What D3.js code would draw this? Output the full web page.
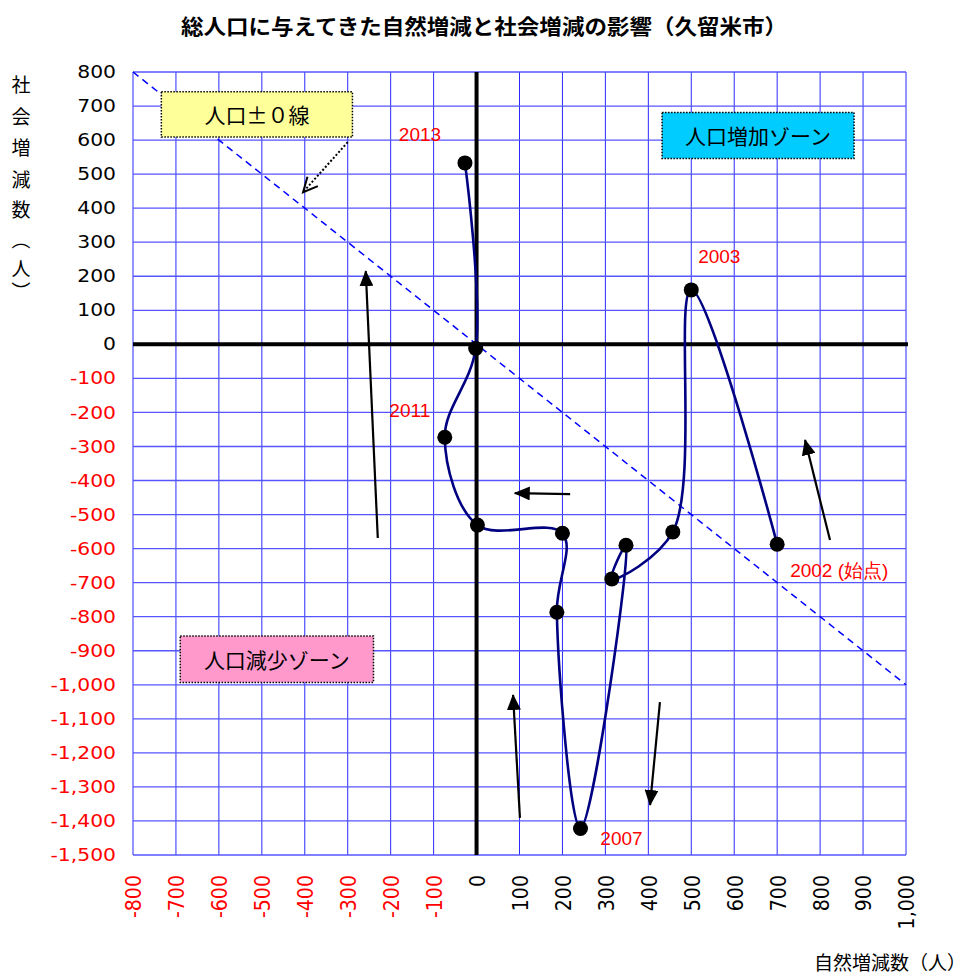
<!DOCTYPE html>
<html>
<head>
<meta charset="utf-8">
<script src="https://cdn.jsdelivr.net/npm/d3@7"></script>
<style>
  html, body { margin: 0; padding: 0; background: #fff; }
  svg { display: block; }
</style>
</head>
<body>
<svg id="chart" width="968" height="973"></svg>
<script>
// ---- data: Kurume city, natural vs. social population change (persons) ----
const years   = [2002, 2003, 2004, 2005, 2006, 2007, 2008, 2009, 2010, 2011, 2012, 2013];
const natural = [700, 500, 457, 315, 348, 242, 187, 200, 2, -74, -2, -27];
const social  = [-587, 160, -551, -689, -590, -1422, -787, -555, -531, -273, -12, 533];

// axis ticks
const xTicks = d3.range(-800, 1001, 100);
const yTicks = d3.range(-1500, 801, 100);

// labelled years: [year, text, dx, dy, anchor]
const yearLabels = [
  [2013, "2013", -45, -28, "middle"],
  [2011, "2011", -35, -27, "middle"],
  [2003, "2003", 28, -33, "middle"],
  [2007, "2007", 41, 10, "middle"],
  [2002, "2002 (始点)", 13, 26, "start"]
];

// direction arrows in data units: [x1, y1, x2, y2]
const flowArrows = [
  [-230, -569, -258, 215],
  [218, -440, 89, -437],
  [101, -1391, 85, -1030],
  [427, -1051, 404, -1353],
  [823, -575, 765, -281]
];

// zone boxes in data units: [x0, y0(top), x1, y1(bottom), text, fill]
const zoneBoxes = [
  [-734, 742, -289, 609, "人口±０線", "#ffff99"],
  [432, 681, 879, 546, "人口増加ゾーン", "#00ccff"],
  [-690, -857, -240, -993, "人口減少ゾーン", "#ff99cc"]
];
// callout pointer from the ±0 box to the diagonal: [x1, y1, x2, y2]
const callout = [-300, 594, -404, 447];

// ---- layout ----
const svg = d3.select("#chart");
const L = 133, R = 906, T = 72, B = 855;
const x = d3.scaleLinear().domain([-800, 1000]).range([L, R]);
const y = d3.scaleLinear().domain([-1500, 800]).range([B, T]);
const locale = d3.formatLocale({ decimal: ".", thousands: ",", grouping: [3], currency: ["", ""], minus: "-" });
const fmt = locale.format(",");
const tickColor = v => v < 0 ? "#ff0000" : "#000000";

// title
svg.append("text")
  .attr("x", 484).attr("y", 25)
  .attr("text-anchor", "middle").attr("dominant-baseline", "central")
  .attr("font-family", "'Noto Sans CJK JP', sans-serif")
  .attr("font-weight", "bold").attr("font-size", 21)
  .attr("textLength", 606).attr("lengthAdjust", "spacingAndGlyphs")
  .text("総人口に与えてきた自然増減と社会増減の影響（久留米市）");

// grid
const grid = svg.append("g");
grid.selectAll("line.gx").data(xTicks).join("line")
  .attr("x1", d => x(d)).attr("x2", d => x(d))
  .attr("y1", T).attr("y2", B)
  .attr("stroke", "#2a2aff").attr("stroke-width", 1);
grid.selectAll("line.gy").data(yTicks).join("line")
  .attr("x1", L).attr("x2", R)
  .attr("y1", d => y(d)).attr("y2", d => y(d))
  .attr("stroke", "#5555ff").attr("stroke-width", 1.3);

// zero axes
svg.append("line")
  .attr("x1", L).attr("x2", R + 2).attr("y1", y(0)).attr("y2", y(0))
  .attr("stroke", "#000").attr("stroke-width", 4);
svg.append("line")
  .attr("x1", x(0)).attr("x2", x(0)).attr("y1", T).attr("y2", B)
  .attr("stroke", "#000").attr("stroke-width", 4);

// y tick labels
svg.append("g").selectAll("text").data(yTicks).join("text")
  .attr("transform", d => `translate(116,${y(d)}) scale(1.13,1)`)
  .attr("text-anchor", "end").attr("dominant-baseline", "central")
  .attr("font-family", "'DejaVu Sans', Verdana, sans-serif")
  .attr("font-size", 18)
  .attr("fill", tickColor)
  .text(d => fmt(d));

// x tick labels (rotated)
svg.append("g").selectAll("text").data(xTicks).join("text")
  .attr("transform", d => `translate(${x(d) + 1},875) scale(1.13,1) rotate(-90)`)
  .attr("text-anchor", "end").attr("dominant-baseline", "central")
  .attr("font-family", "'DejaVu Sans', Verdana, sans-serif")
  .attr("font-size", 19)
  .attr("fill", tickColor)
  .text(d => fmt(d));

// axis titles
svg.append("text")
  .attr("x", 966).attr("y", 961)
  .attr("text-anchor", "end").attr("dominant-baseline", "central")
  .attr("font-family", "'Noto Sans CJK JP', sans-serif")
  .attr("font-size", 19)
  .text("自然増減数（人）");

// vertical y-axis title, one character per row; brackets turned for vertical setting
const yTitle = [["社", 83, 0], ["会", 115, 0], ["増", 146, 0], ["減", 178, 0],
                ["数", 208, 0], ["（", 240, 90], ["人", 267, 0], ["）", 291, 90]];
svg.append("g").selectAll("text").data(yTitle).join("text")
  .attr("transform", d => `translate(21,${d[1]}) rotate(${d[2]})`)
  .attr("text-anchor", "middle").attr("dominant-baseline", "central")
  .attr("font-family", "'Noto Sans CJK JP', sans-serif")
  .attr("font-size", 19)
  .text(d => d[0]);

// population ±0 diagonal (natural + social = 0)
svg.append("line")
  .attr("x1", x(-800)).attr("y1", y(800))
  .attr("x2", x(1000)).attr("y2", y(-1000))
  .attr("stroke", "#0000ff").attr("stroke-width", 1.5)
  .attr("stroke-dasharray", "7,5");

// markers
const defs = svg.append("defs");
defs.append("marker")
  .attr("id", "tri").attr("markerUnits", "userSpaceOnUse")
  .attr("viewBox", "0 0 16 14").attr("refX", 15).attr("refY", 7)
  .attr("markerWidth", 16).attr("markerHeight", 14)
  .attr("orient", "auto")
  .append("path").attr("d", "M0,0 L16,7 L0,14 Z").attr("fill", "#000");

// zone boxes
const boxes = svg.append("g");
zoneBoxes.forEach(b => {
  const [x0, y0, x1, y1, label, fill] = b;
  boxes.append("rect")
    .attr("x", x(x0)).attr("y", y(y0))
    .attr("width", x(x1) - x(x0)).attr("height", y(y1) - y(y0))
    .attr("fill", fill)
    .attr("stroke", "#000").attr("stroke-width", 1.5)
    .attr("stroke-dasharray", "1.5,1.5");
  boxes.append("text")
    .attr("x", (x(x0) + x(x1)) / 2).attr("y", (y(y0) + y(y1)) / 2)
    .attr("text-anchor", "middle").attr("dominant-baseline", "central")
    .attr("font-family", "'Noto Sans CJK JP', sans-serif")
    .attr("font-size", 21)
    .text(label);
});

// callout pointer: dotted shaft with open head
{
  const [cx1, cy1, cx2, cy2] = callout;
  const px1 = x(cx1), py1 = y(cy1), px2 = x(cx2), py2 = y(cy2);
  svg.append("line")
    .attr("x1", px1).attr("y1", py1).attr("x2", px2).attr("y2", py2)
    .attr("stroke", "#000").attr("stroke-width", 2)
    .attr("stroke-dasharray", "2,2");
  const ang = Math.atan2(py1 - py2, px1 - px2);
  const len = 16, spread = 0.45;
  const pA = [px2 + len * Math.cos(ang + spread), py2 + len * Math.sin(ang + spread)];
  const pB = [px2 + len * Math.cos(ang - spread), py2 + len * Math.sin(ang - spread)];
  svg.append("path")
    .attr("d", `M${pA[0]},${pA[1]} L${px2},${py2} L${pB[0]},${pB[1]}`)
    .attr("fill", "none").attr("stroke", "#000").attr("stroke-width", 2);
}

// flow arrows
svg.append("g").selectAll("line").data(flowArrows).join("line")
  .attr("x1", d => x(d[0])).attr("y1", d => y(d[1]))
  .attr("x2", d => x(d[2])).attr("y2", d => y(d[3]))
  .attr("stroke", "#000").attr("stroke-width", 2.2)
  .attr("marker-end", "url(#tri)");

// trajectory
const pts = years.map((yr, i) => ({ year: yr, nx: natural[i], sy: social[i] }));
svg.append("path")
  .datum(pts)
  .attr("d", d3.line().x(d => x(d.nx)).y(d => y(d.sy)).curve(d3.curveCatmullRom.alpha(0.5)))
  .attr("fill", "none").attr("stroke", "#000080").attr("stroke-width", 2.6);

svg.append("g").selectAll("circle").data(pts).join("circle")
  .attr("cx", d => x(d.nx)).attr("cy", d => y(d.sy)).attr("r", 7.5)
  .attr("fill", "#000");

// year labels
svg.append("g").selectAll("text").data(yearLabels).join("text")
  .attr("x", d => x(natural[years.indexOf(d[0])]) + d[2])
  .attr("y", d => y(social[years.indexOf(d[0])]) + d[3])
  .attr("text-anchor", d => d[4]).attr("dominant-baseline", "central")
  .attr("font-family", "'Liberation Sans', Arial, sans-serif")
  .attr("font-size", 19)
  .attr("fill", "#ff0000")
  .text(d => d[1]);
</script>
</body>
</html>
